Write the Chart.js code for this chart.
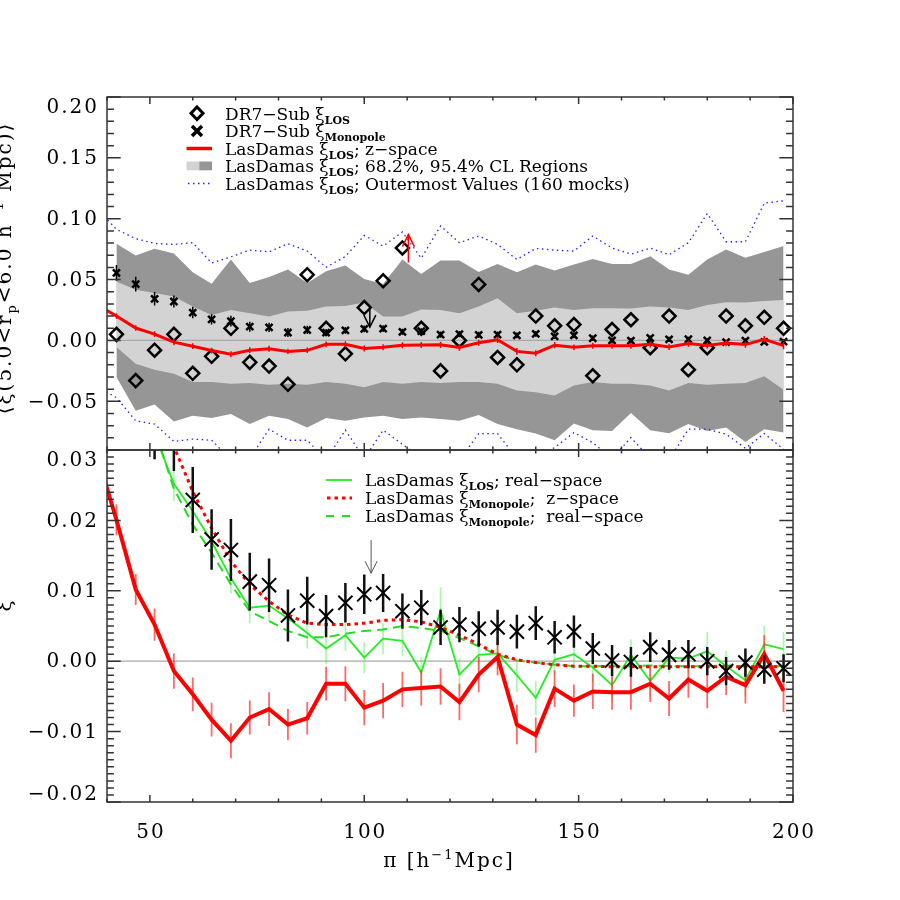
<!doctype html>
<html lang="en">
<head>
<meta charset="utf-8">
<title>LOS correlation function - DR7 vs LasDamas</title>
<style>
  body { margin: 0; background: #fff; }
  .wrap { position: relative; width: 900px; height: 900px; }
  .wrap canvas { position: absolute; left: 0; top: 0; }
</style>
</head>
<body>
<div class="wrap">
  <canvas id="topChart" width="900" height="900"></canvas>
  <canvas id="botChart" width="900" height="900"></canvas>
</div>
<script src="https://cdn.jsdelivr.net/npm/chart.js"></script>
<script>
// ---- bin centres in pi [h^-1 Mpc] ----
const PI = [42.2, 46.7, 51.1, 55.6, 60.0, 64.4, 68.9, 73.3, 77.8, 82.2, 86.7, 91.1,
            95.6, 100.0, 104.4, 108.9, 113.3, 117.8, 122.2, 126.7, 131.1, 135.6, 140.0, 144.4,
            148.9, 153.3, 157.8, 162.2, 166.7, 171.1, 175.6, 180.0, 184.4, 188.9, 193.3, 197.8];

// DR7-Sub
const dr7Los = [0.005, -0.033, -0.008, 0.005, -0.027, -0.013, 0.010, -0.018, -0.021, -0.036, 0.054, 0.010,
                -0.011, 0.027, 0.049, 0.076, 0.010, -0.025, 0.000, 0.046, -0.014, -0.020, 0.020, 0.012,
                0.013, -0.029, 0.009, 0.017, -0.006, 0.020, -0.024, -0.006, 0.020, 0.012, 0.019, 0.010];
const dr7Mono = [0.0555, 0.0463, 0.0342, 0.0320, 0.0229, 0.0173, 0.0158, 0.0113, 0.0108, 0.0065, 0.0086, 0.0064,
                 0.0083, 0.0095, 0.0097, 0.0071, 0.0076, 0.0048, 0.0052, 0.0046, 0.0048, 0.0042, 0.0054, 0.0034,
                 0.0042, 0.0018, 0.0001, -0.0001, 0.0020, 0.0009, 0.0010, 0.0000, -0.0014, -0.0002, -0.0012, -0.0010];
const dr7MonoErr = [0.0065, 0.0060, 0.0055, 0.0050, 0.0047, 0.0043, 0.0044, 0.0041, 0.0038, 0.0037, 0.0034, 0.0030,
                    0.0028, 0.0028, 0.0027, 0.0025, 0.0025, 0.0025, 0.0025, 0.0025, 0.0025, 0.0024, 0.0024, 0.0023,
                    0.0023, 0.0022, 0.0022, 0.0021, 0.0021, 0.0021, 0.0020, 0.0020, 0.0020, 0.0020, 0.0020, 0.0020];

// LasDamas
const ldLosZ = [0.0201, 0.0102, 0.0052, -0.0014, -0.0047, -0.0083, -0.0113, -0.0080, -0.0068, -0.0090, -0.0081, -0.0032,
                -0.0032, -0.0066, -0.0056, -0.0040, -0.0038, -0.0036, -0.0058, -0.0019, 0.0006, -0.0090, -0.0105, -0.0039,
                -0.0056, -0.0043, -0.0044, -0.0044, -0.0032, -0.0053, -0.0026, -0.0042, -0.0022, -0.0034, 0.0010, -0.0042];
const ldLosZErr = [0.0022, 0.0022, 0.0023, 0.0025, 0.0024, 0.0024, 0.0025, 0.0024, 0.0024, 0.0022, 0.0023, 0.0024,
                   0.0025, 0.0025, 0.0025, 0.0025, 0.0025, 0.0026, 0.0026, 0.0025, 0.0026, 0.0028, 0.0025, 0.0026,
                   0.0023, 0.0025, 0.0025, 0.0025, 0.0026, 0.0025, 0.0026, 0.0025, 0.0026, 0.0026, 0.0027, 0.0030];
const ldLosReal = [0.0550, 0.0440, 0.0322, 0.0252, 0.0213, 0.0170, 0.0118, 0.0076, 0.0079, 0.0061, 0.0040, 0.0018,
                   0.0037, 0.0005, 0.0032, 0.0029, -0.0016, 0.0072, -0.0019, 0.0009, 0.0011, -0.0020, -0.0052, 0.0002,
                   0.0010, -0.0009, -0.0034, 0.0009, -0.0028, 0.0005, 0.0004, 0.0014, -0.0007, -0.0027, 0.0024, 0.0017];
const ldLosRealErr = [0.0025, 0.0025, 0.0024, 0.0024, 0.0023, 0.0023, 0.0022, 0.0022, 0.0022, 0.0022, 0.0022, 0.0022,
                      0.0022, 0.0022, 0.0022, 0.0022, 0.0022, 0.0033, 0.0024, 0.0022, 0.0022, 0.0024, 0.0024, 0.0022,
                      0.0022, 0.0022, 0.0022, 0.0022, 0.0022, 0.0022, 0.0022, 0.0028, 0.0022, 0.0022, 0.0026, 0.0025];
const ldMonoZ = [0.0550, 0.0450, 0.0370, 0.0305, 0.0241, 0.0189, 0.0142, 0.0109, 0.0085, 0.0066, 0.0054, 0.0052,
                 0.0052, 0.0054, 0.0058, 0.0059, 0.0056, 0.0048, 0.0037, 0.0024, 0.0010, 0.0002, -0.0002, -0.0005,
                 -0.0007, -0.0007, -0.0008, -0.0008, -0.0008, -0.0008, -0.0008, -0.0008, -0.0008, -0.0008, -0.0008, -0.0008];
const ldMonoReal = [0.0520, 0.0420, 0.0330, 0.0245, 0.0194, 0.0154, 0.0109, 0.0071, 0.0057, 0.0043, 0.0034, 0.0034,
                    0.0039, 0.0043, 0.0045, 0.0050, 0.0047, 0.0043, 0.0033, 0.0021, 0.0009, 0.0001, -0.0002, -0.0005,
                    -0.0007, -0.0007, -0.0007, -0.0007, -0.0006, -0.0007, -0.0007, -0.0007, -0.0006, -0.0007, -0.0007, -0.0007];

// LasDamas confidence regions and outermost mock values
const cl68Up = [0.0485, 0.0416, 0.0389, 0.0361, 0.0278, 0.0209, 0.0251, 0.0223, 0.0196, 0.0237, 0.0245, 0.0278,
                0.0284, 0.0312, 0.0196, 0.0196, 0.0255, 0.0251, 0.0223, 0.0278, 0.0347, 0.0223, 0.0243, 0.0270,
                0.0251, 0.0265, 0.0265, 0.0262, 0.0278, 0.0270, 0.0251, 0.0292, 0.0314, 0.0312, 0.0325, 0.0333];
const cl68Low = [-0.0053, -0.0191, -0.0240, -0.0273, -0.0342, -0.0342, -0.0356, -0.0350, -0.0364, -0.0356, -0.0364, -0.0342,
                 -0.0356, -0.0384, -0.0342, -0.0356, -0.0342, -0.0350, -0.0342, -0.0342, -0.0356, -0.0411, -0.0425, -0.0452,
                 -0.0370, -0.0342, -0.0356, -0.0356, -0.0370, -0.0411, -0.0350, -0.0364, -0.0356, -0.0350, -0.0295, -0.0406];
const cl95Up = [0.0795, 0.0698, 0.0753, 0.0714, 0.0560, 0.0466, 0.0665, 0.0472, 0.0521, 0.0582, 0.0472, 0.0568,
                0.0615, 0.0505, 0.0463, 0.0665, 0.0546, 0.0657, 0.0657, 0.0563, 0.0629, 0.0560, 0.0623, 0.0574,
                0.0623, 0.0670, 0.0629, 0.0629, 0.0692, 0.0582, 0.0540, 0.0665, 0.0748, 0.0679, 0.0726, 0.0776];
const cl95Low = [-0.0301, -0.0577, -0.0527, -0.0665, -0.0618, -0.0638, -0.0605, -0.0687, -0.0618, -0.0646, -0.0715, -0.0638,
                 -0.0660, -0.0632, -0.0618, -0.0646, -0.0632, -0.0646, -0.0660, -0.0613, -0.0687, -0.0729, -0.0765, -0.0820,
                 -0.0682, -0.0737, -0.0743, -0.0597, -0.0737, -0.0762, -0.0687, -0.0743, -0.0715, -0.0834, -0.0729, -0.0757];
const outerUp = [0.0913, 0.0836, 0.0797, 0.0789, 0.0803, 0.0637, 0.0687, 0.0742, 0.0728, 0.0795, 0.0734, 0.0601,
                 0.0690, 0.0863, 0.0775, 0.0891, 0.0676, 0.0941, 0.0803, 0.0858, 0.0789, 0.0665, 0.0756, 0.0742,
                 0.0734, 0.0858, 0.0759, 0.0709, 0.0759, 0.0704, 0.0803, 0.1043, 0.0811, 0.0811, 0.1128, 0.1148];
const outerLow = [-0.0470, -0.0660, -0.0687, -0.0830, -0.0810, -0.0820, -0.0980, -0.0970, -0.0729, -0.0820, -0.0820, -0.0980,
                  -0.0737, -0.0970, -0.0737, -0.0853, -0.0970, -0.0980, -0.0980, -0.0765, -0.0765, -0.0970, -0.0960, -0.0880,
                  -0.0757, -0.0840, -0.0970, -0.0798, -0.0970, -0.0980, -0.0729, -0.0729, -0.0770, -0.0886, -0.0765, -0.0894];

// bin just below the plotted range (only its connecting segment shows)
const leadPi = 37.8;
const leadLosZ = 0.029;
const leadOuterUp = 0.108;
const leadOuterLow = -0.038;

// ticks
const xTicks = [50, 100, 150, 200];
const topTicks = [-0.05, 0.00, 0.05, 0.10, 0.15, 0.20];
const botTicks = [-0.02, -0.01, 0.00, 0.01, 0.02, 0.03];

// arrows: [pi, from, to]
const topArrows = [[110.3, 0.064, 0.087], [101.3, 0.028, 0.011]];
const botArrows = [[101.6, 0.0172, 0.0125]];

// ---------------------------------------------------------------
const F = (size, bold) => (bold ? 'bold ' : '') + size + 'px "DejaVu Serif"';
const SUB = F(11, true);

function toPts(ys, lead) {
  const pts = ys.map((v, i) => ({x: PI[i], y: v}));
  if (lead !== undefined) pts.unshift({x: leadPi, y: lead});
  return pts;
}

function richWidth(ctx, parts, spacing) {
  ctx.letterSpacing = (spacing || 0) + 'px';
  let w = 0;
  for (const p of parts) { ctx.font = p[1]; w += ctx.measureText(p[0]).width; }
  return w;
}

function rich(ctx, parts, x, y, spacing) {
  ctx.letterSpacing = (spacing || 0) + 'px';
  ctx.textAlign = 'left';
  ctx.textBaseline = 'alphabetic';
  let cx = x;
  for (const p of parts) {
    ctx.font = p[1];
    ctx.fillText(p[0], cx, y + (p[2] || 0));
    cx += ctx.measureText(p[0]).width;
  }
}

function tickLabel(v) {
  if (Math.abs(v) < 1e-9) return '0.00';
  return (v < 0 ? '\u2212' : '') + Math.abs(v).toFixed(2);
}

// error bars drawn just before each dataset
const errorBars = {
  id: 'errorBars',
  beforeDatasetDraw(chart, args) {
    const ds = chart.data.datasets[args.index];
    if (!ds.errors) return;
    const {ctx, chartArea: a, scales: {x, y}} = chart;
    ctx.save();
    ctx.beginPath();
    ctx.rect(a.left, a.top, a.right - a.left, a.bottom - a.top);
    ctx.clip();
    ctx.strokeStyle = ds.errColor;
    ctx.lineWidth = ds.errWidth;
    ctx.beginPath();
    ds.errY.forEach((v, i) => {
      const px = x.getPixelForValue(PI[i]);
      ctx.moveTo(px, y.getPixelForValue(v - ds.errors[i]));
      ctx.lineTo(px, y.getPixelForValue(v + ds.errors[i]));
    });
    ctx.stroke();
    ctx.restore();
  }
};

// axes box, inward ticks, tick labels, arrows
const frame = {
  id: 'frame',
  afterDraw(chart, args, o) {
    const {ctx, chartArea: a, scales: {x, y}} = chart;
    ctx.save();
    // arrows
    o.arrows.forEach((ar, i) => {
      const px = x.getPixelForValue(ar[0]);
      const y0 = y.getPixelForValue(ar[1]);
      const y1 = y.getPixelForValue(ar[2]);
      const dir = y1 < y0 ? 1 : -1;
      ctx.strokeStyle = o.arrowColors[i];
      ctx.lineWidth = o.arrowWidth;
      ctx.beginPath();
      ctx.moveTo(px, y0); ctx.lineTo(px, y1);
      ctx.moveTo(px - 6, y1 + dir * 12); ctx.lineTo(px, y1); ctx.lineTo(px + 6, y1 + dir * 12);
      ctx.stroke();
    });
    // box
    ctx.strokeStyle = '#333';
    ctx.lineWidth = 1.5;
    ctx.strokeRect(a.left, a.top, a.right - a.left, a.bottom - a.top);
    ctx.beginPath();
    for (let v = 40; v <= 200; v += 10) {
      const px = x.getPixelForValue(v);
      const len = v % 50 === 0 ? 7 : 3.5;
      ctx.moveTo(px, a.bottom); ctx.lineTo(px, a.bottom - len);
      ctx.moveTo(px, a.top); ctx.lineTo(px, a.top + len);
    }
    for (let k = o.kMin; k <= o.kMax; k++) {
      const py = y.getPixelForValue(k / o.div);
      const len = k % o.major === 0 ? 13.7 : 6.9;
      ctx.moveTo(a.left, py); ctx.lineTo(a.left + len, py);
      ctx.moveTo(a.right, py); ctx.lineTo(a.right - len, py);
    }
    ctx.stroke();
    // y tick labels
    ctx.fillStyle = '#000';
    ctx.font = F(20);
    ctx.letterSpacing = '2px';
    ctx.textAlign = 'right';
    ctx.textBaseline = 'middle';
    o.yTicks.forEach(v => {
      let py = y.getPixelForValue(v);
      py = Math.min(Math.max(py, a.top + 10), a.bottom - 8);
      ctx.fillText(tickLabel(v), a.left - 8, py + 1);
    });
    if (o.xLabels) {
      ctx.textAlign = 'center';
      ctx.textBaseline = 'alphabetic';
      xTicks.forEach(v => ctx.fillText(String(v), x.getPixelForValue(v) + 1, 838));
      const xt = [['\u03c0 [h', F(20)], ['\u22121', F(13), -8], ['Mpc]', F(20)]];
      rich(ctx, xt, 449 - richWidth(ctx, xt, 2) / 2, 867, 2);
    }
    // rotated y titles
    o.yTitle.forEach(t => {
      ctx.save();
      ctx.translate(t.x, t.y);
      ctx.rotate(-Math.PI / 2);
      rich(ctx, t.parts, -richWidth(ctx, t.parts, 2) / 2, 0, 2);
      ctx.restore();
    });
    // legend
    o.legend(ctx);
    ctx.restore();
  }
};

function legendTop(ctx) {
  ctx.fillStyle = '#000';
  ctx.letterSpacing = '0px';
  // diamond
  ctx.strokeStyle = '#000'; ctx.lineWidth = 3;
  ctx.beginPath();
  ctx.moveTo(197, 107); ctx.lineTo(203, 113.3); ctx.lineTo(197, 119.6); ctx.lineTo(191, 113.3); ctx.closePath();
  ctx.stroke();
  // bold X
  ctx.lineWidth = 3.5;
  ctx.beginPath();
  ctx.moveTo(192, 126); ctx.lineTo(202, 136); ctx.moveTo(202, 126); ctx.lineTo(192, 136);
  ctx.stroke();
  // red line
  ctx.strokeStyle = '#ff0000'; ctx.lineWidth = 3.5;
  ctx.beginPath(); ctx.moveTo(186.5, 148.5); ctx.lineTo(212, 148.5); ctx.stroke();
  // grey boxes
  ctx.fillStyle = '#d3d3d3'; ctx.fillRect(186.5, 161.5, 12.8, 8.8);
  ctx.fillStyle = '#969696'; ctx.fillRect(199.3, 161.5, 12.7, 8.8);
  // blue dotted
  ctx.strokeStyle = '#2020ff'; ctx.lineWidth = 1.3; ctx.setLineDash([1.5, 3.5]);
  ctx.beginPath(); ctx.moveTo(188, 183.5); ctx.lineTo(212, 183.5); ctx.stroke();
  ctx.setLineDash([]);
  ctx.fillStyle = '#000';
  const T = F(17);
  rich(ctx, [['DR7\u2212Sub \u03be', T], ['LOS', SUB, 4]], 225, 119.5);
  rich(ctx, [['DR7\u2212Sub \u03be', T], ['Monopole', SUB, 4]], 225, 137);
  rich(ctx, [['LasDamas \u03be', T], ['LOS', SUB, 4], ['; z\u2212space', T]], 225, 154.5);
  rich(ctx, [['LasDamas \u03be', T], ['LOS', SUB, 4], ['; 68.2%, 95.4% CL Regions', T]], 225, 172);
  rich(ctx, [['LasDamas \u03be', T], ['LOS', SUB, 4], ['; Outermost Values (160 mocks)', T]], 225, 189.5);
}

function legendBot(ctx) {
  ctx.letterSpacing = '0px';
  ctx.strokeStyle = '#22ee22'; ctx.lineWidth = 1.8;
  ctx.beginPath(); ctx.moveTo(326, 480); ctx.lineTo(352, 480); ctx.stroke();
  ctx.strokeStyle = '#ff0000'; ctx.lineWidth = 3; ctx.setLineDash([3.5, 4]);
  ctx.beginPath(); ctx.moveTo(327, 498); ctx.lineTo(352, 498); ctx.stroke();
  ctx.strokeStyle = '#22dd22'; ctx.lineWidth = 2; ctx.setLineDash([8, 8]);
  ctx.beginPath(); ctx.moveTo(326, 516); ctx.lineTo(352, 516); ctx.stroke();
  ctx.setLineDash([]);
  ctx.fillStyle = '#000';
  const T = F(17);
  rich(ctx, [['LasDamas \u03be', T], ['LOS', SUB, 4], ['; real\u2212space', T]], 365, 486);
  rich(ctx, [['LasDamas \u03be', T], ['Monopole', SUB, 4], [';  z\u2212space', T]], 365, 504);
  rich(ctx, [['LasDamas \u03be', T], ['Monopole', SUB, 4], [';  real\u2212space', T]], 365, 522);
}

const zeroLine = {data: [{x: 40, y: 0}, {x: 200, y: 0}], borderColor: '#a8a8a8', borderWidth: 1.3, pointRadius: 0, clip: 0};

function baseOptions(yMin, yMax, padding, frameOpts) {
  return {
    responsive: false,
    devicePixelRatio: 1,
    animation: false,
    layout: {padding},
    scales: {
      x: {type: 'linear', min: 40, max: 200, display: false},
      y: {type: 'linear', min: yMin, max: yMax, display: false}
    },
    elements: {line: {tension: 0}},
    plugins: {legend: {display: false}, tooltip: {enabled: false}, frame: frameOpts}
  };
}

// ---------------- top panel ----------------
new Chart(document.getElementById('topChart'), {
  type: 'line',
  data: {
    datasets: [
      {data: toPts(ldLosZ, leadLosZ), borderColor: '#ff0000', borderWidth: 3, pointRadius: 0, clip: 0,
       errors: ldLosZErr, errY: ldLosZ, errColor: '#ff0000', errWidth: 1.5},
      {data: toPts(dr7Mono), showLine: false, pointStyle: 'crossRot', pointRadius: 5, pointBorderWidth: 2.5,
       pointBorderColor: '#000', clip: 0, errors: dr7MonoErr, errY: dr7Mono, errColor: '#000', errWidth: 1.5},
      {data: toPts(dr7Los), showLine: false, pointStyle: 'rectRot', pointRadius: 6.5, pointBorderWidth: 2.5,
       pointBorderColor: '#000', pointBackgroundColor: 'rgba(0,0,0,0)', clip: 0},
      {data: toPts(outerUp, leadOuterUp), borderColor: '#2020ff', borderWidth: 1.3, borderDash: [1.5, 3.5], pointRadius: 0, clip: 0},
      {data: toPts(outerLow, leadOuterLow), borderColor: '#2020ff', borderWidth: 1.3, borderDash: [1.5, 3.5], pointRadius: 0, clip: 0},
      zeroLine,
      {data: toPts(cl68Up), borderWidth: 0, pointRadius: 0, fill: '+1', backgroundColor: '#d3d3d3', clip: 0},
      {data: toPts(cl68Low), borderWidth: 0, pointRadius: 0, clip: 0},
      {data: toPts(cl95Up), borderWidth: 0, pointRadius: 0, fill: '+1', backgroundColor: '#969696', clip: 0},
      {data: toPts(cl95Low), borderWidth: 0, pointRadius: 0, clip: 0}
    ]
  },
  options: baseOptions(-0.09, 0.20, {left: 107, right: 107, top: 97, bottom: 450}, {
    kMin: -9, kMax: 20, div: 100, major: 5, yTicks: topTicks, xLabels: false,
    arrows: topArrows, arrowColors: ['#ff0000', '#000'], arrowWidth: 1.5,
    yTitle: [{x: 11, y: 268, parts: [['\u27e8\u03be(5.0<r', F(20)], ['p', F(13), 5], ['<6.0 h', F(20)],
                                     ['\u22121', F(13), -8], [' Mpc)\u27e9', F(20)]]}],
    legend: legendTop
  }),
  plugins: [errorBars, frame]
});

// ---------------- bottom panel ----------------
new Chart(document.getElementById('botChart'), {
  type: 'line',
  data: {
    datasets: [
      {data: toPts(dr7Mono), showLine: false, pointStyle: 'crossRot', pointRadius: 10, pointBorderWidth: 2,
       pointBorderColor: '#000', clip: 0, errors: dr7MonoErr, errY: dr7Mono, errColor: '#111', errWidth: 2.5},
      {data: toPts(ldLosZ, leadLosZ), borderColor: '#ff0000', borderWidth: 4, pointRadius: 0, clip: 0,
       errors: ldLosZErr, errY: ldLosZ, errColor: 'rgba(255,40,40,0.7)', errWidth: 1.8},
      {data: toPts(ldMonoZ), borderColor: '#ff0000', borderWidth: 3, borderDash: [3.5, 4], pointRadius: 0, clip: 0},
      {data: toPts(ldMonoReal), borderColor: '#22dd22', borderWidth: 2, borderDash: [10, 6], pointRadius: 0, clip: 0},
      {data: toPts(ldLosReal), borderColor: '#22ee22', borderWidth: 1.8, pointRadius: 0, clip: 0,
       errors: ldLosRealErr, errY: ldLosReal, errColor: 'rgba(60,230,60,0.4)', errWidth: 1.8},
      zeroLine
    ]
  },
  options: baseOptions(-0.02, 0.03, {left: 107, right: 107, top: 450, bottom: 98}, {
    kMin: -20, kMax: 30, div: 1000, major: 10, yTicks: botTicks, xLabels: true,
    arrows: botArrows, arrowColors: ['#555'], arrowWidth: 1,
    yTitle: [{x: 11, y: 605, parts: [['\u03be', F(20)]]}],
    legend: legendBot
  }),
  plugins: [errorBars, frame]
});
</script>
</body>
</html>
